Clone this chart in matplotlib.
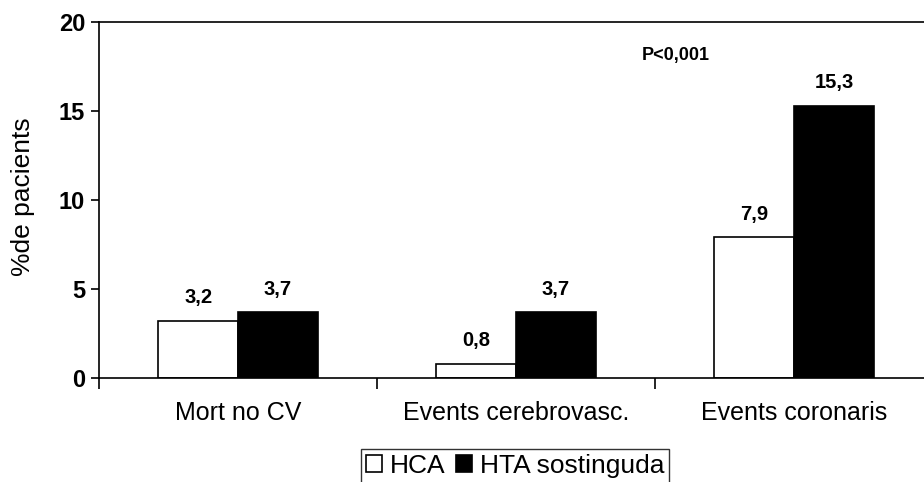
import matplotlib.pyplot as plt
import numpy as np

categories = ["Mort no CV", "Events cerebrovasc.", "Events coronaris"]
hca = [3.2, 0.8, 7.9]
hta = [3.7, 3.7, 15.3]
series_names = ["HCA", "HTA sostinguda"]

plt.rcParams['font.family'] = ['Liberation Sans', 'DejaVu Sans']

fig = plt.figure(figsize=(9.24, 4.82), dpi=100)
ax = fig.add_axes([99 / 924, 104 / 482, 834 / 924, 356 / 482])

x = np.arange(len(categories))
w = 0.287
b1 = ax.bar(x - w / 2, hca, w, color='white', edgecolor='black', linewidth=1.2,
            label=series_names[0])
b2 = ax.bar(x + w / 2, hta, w, color='black', edgecolor='black', linewidth=1.2,
            label=series_names[1])

# value labels above the bars
for bars, vals in ((b1, hca), (b2, hta)):
    for rect, v in zip(bars, vals):
        ax.text(rect.get_x() + rect.get_width() / 2, v + 1.3,
                f"{v:.1f}".replace('.', ','), ha='center', va='center',
                fontsize=14.5, fontweight='bold')

ax.text(1.575, 18.1, "P<0,001", ha='center', va='center', fontsize=13,
        fontweight='bold')

ax.set_xlim(-0.5, 2.5)
ax.set_ylim(0, 20)
ax.set_yticks([0, 5, 10, 15, 20])
ax.set_xticks([-0.5, 0.5, 1.5, 2.5])
ax.set_xticklabels([])
ax.tick_params(axis='y', direction='out', length=6, width=1.2, labelsize=17,
               pad=4)
ax.tick_params(axis='x', direction='out', length=8, width=1.2)
for lab in ax.get_yticklabels():
    lab.set_fontweight('bold')
for i, c in enumerate(categories):
    ax.text(i, -1.97, c, ha='center', va='center', fontsize=18)

ax.spines['right'].set_visible(False)
for s in ('left', 'top', 'bottom'):
    ax.spines[s].set_linewidth(1.2)

ax.set_ylabel("%de pacients", fontsize=19)
ax.yaxis.set_label_coords(-0.077, 0.508)

fig.legend(loc='center', bbox_to_anchor=(515 / 924, 1 - 466 / 482), ncol=2,
           fontsize=19, frameon=True, fancybox=False, edgecolor='black',
           handlelength=0.6, handleheight=0.6, handletextpad=0.3,
           columnspacing=0.4, borderpad=0.2, borderaxespad=0)

fig.savefig("out.png", dpi=100)
